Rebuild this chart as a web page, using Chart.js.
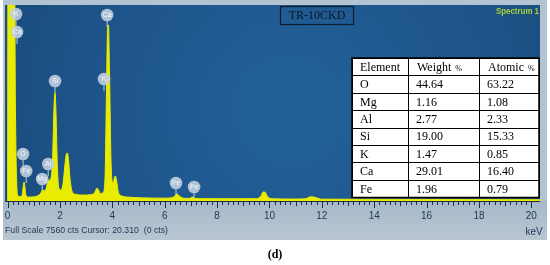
<!DOCTYPE html>
<html>
<head>
<meta charset="utf-8">
<script src="https://cdn.jsdelivr.net/npm/chart.js@4"></script>
<style>
  html, body { margin: 0; padding: 0; background: #fff; }
  canvas { display: block; }
</style>
</head>
<body>
<canvas id="spectrum" width="550" height="265"></canvas>
<script>
// spectrum (keV / counts)
var energy = [0, 0.01, 0.26, 0.3, 0.34, 0.4, 0.5, 0.56, 0.6, 0.63, 0.66, 0.7, 0.8, 1.0, 1.15, 1.25, 1.32, 1.36, 1.42, 1.48,
  1.54, 1.6, 1.66, 1.72, 1.77, 1.81, 1.85, 1.9, 1.96, 2.04, 2.12, 2.19, 2.24, 2.28, 2.32, 2.38, 2.46, 2.6, 2.9, 3.2,
  3.32, 3.38, 3.42, 3.47, 3.55, 3.65, 3.72, 3.78, 3.82, 3.85, 3.89, 3.95, 4.02, 4.07, 4.11, 4.16, 4.22, 4.35, 4.6, 5.2,
  6.0, 6.3, 6.4, 6.47, 6.55, 6.7, 6.95, 7.06, 7.16, 7.5, 8.5, 9.5, 9.68, 9.76, 9.84, 9.92, 10.1, 11.0, 11.4, 11.52,
  11.64, 11.78, 12.0, 14.0, 17.0, 20.33];
var counts = [0, 9000, 9000, 3500, 900, 200, 170, 260, 600, 730, 550, 220, 150, 160, 200, 280, 400, 420, 380, 520,
  760, 810, 900, 1700, 3600, 4170, 3300, 1300, 500, 420, 700, 1400, 1800, 1850, 1650, 900, 380, 260, 230, 250,
  320, 450, 500, 420, 280, 330, 900, 4500, 6700, 6790, 5000, 1500, 700, 850, 965, 800, 380, 200, 150, 120,
  110, 130, 220, 270, 200, 110, 100, 150, 100, 90, 85, 90, 200, 350, 330, 180, 85, 75, 90, 150,
  160, 130, 70, 65, 55, 50];

var fullScale = 7560;
var tickValues = [0, 2, 4, 6, 8, 10, 12, 14, 16, 18, 20];

// peak markers (circle centre in keV / counts)
var peakNames = ['K', 'Ca', 'Si', 'K', 'Ca', 'O', 'Fe', 'Mg', 'Al', 'Fe', 'Fe'];
var peakKeV = [0.32, 0.36, 1.81, 3.68, 3.8, 0.59, 0.71, 1.32, 1.55, 6.43, 7.12];
var peakCts = [7213, 6519, 4629, 4706, 7174, 1813, 1157, 849, 1427, 694, 540];

// composition table
var elements = ['O', 'Mg', 'Al', 'Si', 'K', 'Ca', 'Fe'];
var weightPct = ['44.64', '1.16', '2.77', '19.00', '1.47', '29.01', '1.96'];
var atomicPct = ['63.22', '1.08', '2.33', '15.33', '0.85', '16.40', '0.79'];

var sans = "'Liberation Sans', Arial, sans-serif";
var serif = "'Liberation Serif', 'Times New Roman', serif";

var panel = {
  id: 'panel',
  beforeDraw: function(chart) {
    var ctx = chart.ctx, a = chart.chartArea;
    ctx.save();
    ctx.fillStyle = '#ffffff';
    ctx.fillRect(0, 0, chart.width, chart.height);
    // outer grey frame + bottom strip
    ctx.fillStyle = '#b4c3d1';
    ctx.fillRect(3, 0, 544, 240);
    var g = ctx.createLinearGradient(0, a.bottom, 0, 240);
    g.addColorStop(0, '#a6b8c9');
    g.addColorStop(1, '#b9c6d2');
    ctx.fillStyle = g;
    ctx.fillRect(3, a.bottom, 544, 240 - a.bottom);
    // dark blue plot area
    var rg = ctx.createRadialGradient(290, 110, 20, 290, 110, 330);
    rg.addColorStop(0, '#23609a');
    rg.addColorStop(1, '#194b7c');
    ctx.fillStyle = rg;
    ctx.fillRect(a.left, a.top, a.right - a.left, a.bottom - a.top);
    ctx.restore();
  },
  afterDatasetsDraw: function(chart) {
    var ctx = chart.ctx, a = chart.chartArea;
    var xs = chart.scales.x, ys = chart.scales.y;
    ctx.save();

    // axis line and tick marks
    ctx.strokeStyle = '#1c2e44';
    ctx.lineWidth = 1;
    ctx.beginPath();
    ctx.moveTo(a.left, a.bottom + 0.5);
    ctx.lineTo(a.right, a.bottom + 0.5);
    ctx.stroke();
    for (var i = 0; i <= 100; i++) {
      var v = i * 0.2;
      var px = Math.round(xs.getPixelForValue(v)) + 0.5;
      var len = (i % 10 === 0) ? 6 : (i % 5 === 0 ? 4 : 3);
      ctx.beginPath();
      ctx.moveTo(px, a.bottom + 1);
      ctx.lineTo(px, a.bottom + 1 + len);
      ctx.stroke();
    }

    // peak markers
    ctx.textAlign = 'center';
    ctx.textBaseline = 'middle';
    ctx.font = '7px ' + sans;
    for (var j = 0; j < peakNames.length; j++) {
      var cx = xs.getPixelForValue(peakKeV[j]);
      var cy = ys.getPixelForValue(peakCts[j]);
      ctx.strokeStyle = 'rgba(205,218,230,0.9)';
      ctx.beginPath();
      ctx.moveTo(cx, cy + 6);
      ctx.lineTo(cx, cy + 12);
      ctx.stroke();
      ctx.fillStyle = 'rgba(196,210,224,0.88)';
      ctx.beginPath();
      ctx.arc(cx, cy, 6.3, 0, Math.PI * 2);
      ctx.fill();
      ctx.fillStyle = '#f6f9fc';
      ctx.fillText(peakNames[j], cx, cy + 0.5);
    }

    // sample name box
    ctx.strokeStyle = '#0d1d30';
    ctx.lineWidth = 1.2;
    ctx.strokeRect(280.5, 6.5, 73, 18);
    ctx.fillStyle = '#0e1626';
    ctx.font = '12px ' + serif;
    ctx.fillText('TR-10CKD', 317, 16);

    // spectrum name
    ctx.textAlign = 'right';
    ctx.fillStyle = '#a9d13e';
    ctx.font = 'bold 9px ' + sans;
    ctx.fillText('Spectrum 1', 539, 12, 43);

    // composition table
    var tl = 352, tr = 539, tt = 58, rh = 17.4;
    var cols = [tl, 408, 479, tr];
    var rows = elements.length + 1;
    ctx.fillStyle = '#ffffff';
    ctx.fillRect(tl, tt, tr - tl, rh * rows);
    ctx.strokeStyle = '#000000';
    ctx.lineWidth = 1;
    for (var r = 0; r <= rows; r++) {
      var ly = Math.round(tt + r * rh) + 0.5;
      ctx.beginPath();
      ctx.moveTo(tl, ly);
      ctx.lineTo(tr, ly);
      ctx.stroke();
    }
    for (var c = 0; c < cols.length; c++) {
      ctx.beginPath();
      ctx.moveTo(cols[c] + 0.5, tt);
      ctx.lineTo(cols[c] + 0.5, Math.round(tt + rows * rh) + 0.5);
      ctx.stroke();
    }
    ctx.lineWidth = 1.5;
    ctx.strokeRect(tl, tt, tr - tl, Math.round(rows * rh) + 0.5);

    ctx.textAlign = 'left';
    ctx.fillStyle = '#000000';
    ctx.font = '12px ' + serif;
    var hy = tt + rh / 2 + 1;
    var heads = ['Weight', 'Atomic'];
    ctx.fillText('Element', cols[0] + 8, hy);
    for (var h = 0; h < heads.length; h++) {
      ctx.font = '12px ' + serif;
      var w = ctx.measureText(heads[h] + ' ').width;
      ctx.fillText(heads[h], cols[h + 1] + 9, hy);
      ctx.font = '8px ' + serif;
      ctx.fillText('%', cols[h + 1] + 9 + w + 1, hy + 1);
    }
    ctx.font = '12px ' + serif;
    for (var k = 0; k < elements.length; k++) {
      var ry = tt + (k + 1) * rh + rh / 2 + 1;
      ctx.fillText(elements[k], cols[0] + 8, ry);
      ctx.fillText(weightPct[k], cols[1] + 8, ry);
      ctx.fillText(atomicPct[k], cols[2] + 8, ry);
    }
    ctx.restore();
  },
  afterDraw: function(chart) {
    var ctx = chart.ctx;
    ctx.save();
    ctx.textBaseline = 'middle';
    ctx.fillStyle = '#22395a';
    ctx.font = '9px ' + sans;
    ctx.textAlign = 'left';
    ctx.fillText('Full Scale 7560 cts Cursor: 20.310  (0 cts)', 5, 231, 163);
    ctx.textAlign = 'center';
    ctx.font = '10px ' + sans;
    ctx.fillText('keV', 534, 232);
    ctx.fillStyle = '#000000';
    ctx.font = 'bold 12px ' + serif;
    ctx.fillText('(d)', 275, 255);
    ctx.restore();
  }
};

new Chart(document.getElementById('spectrum'), {
  type: 'line',
  data: {
    datasets: [{
      data: energy.map(function(e, i) { return { x: e, y: counts[i] }; }),
      borderColor: '#e9ec00',
      backgroundColor: '#e9ec00',
      borderWidth: 1,
      fill: 'origin',
      pointRadius: 0,
      cubicInterpolationMode: 'monotone'
    }]
  },
  options: {
    responsive: false,
    animation: false,
    devicePixelRatio: 1,
    layout: { padding: { left: 5, right: 10, top: 5, bottom: 43 } },
    plugins: { legend: { display: false }, tooltip: { enabled: false } },
    scales: {
      x: {
        type: 'linear',
        min: -0.1,
        max: 20.33,
        afterBuildTicks: function(axis) {
          axis.ticks = tickValues.map(function(v) { return { value: v }; });
        },
        afterFit: function(axis) {
          axis.paddingLeft = 0;
          axis.paddingRight = 0;
          axis.height = 21;
        },
        ticks: {
          color: '#22395a',
          font: { family: sans, size: 10 },
          padding: 9,
          maxRotation: 0,
          autoSkip: false
        },
        grid: { display: false, drawTicks: false },
        border: { display: false }
      },
      y: { display: false, min: 0, max: fullScale }
    }
  },
  plugins: [panel]
});
</script>
</body>
</html>
